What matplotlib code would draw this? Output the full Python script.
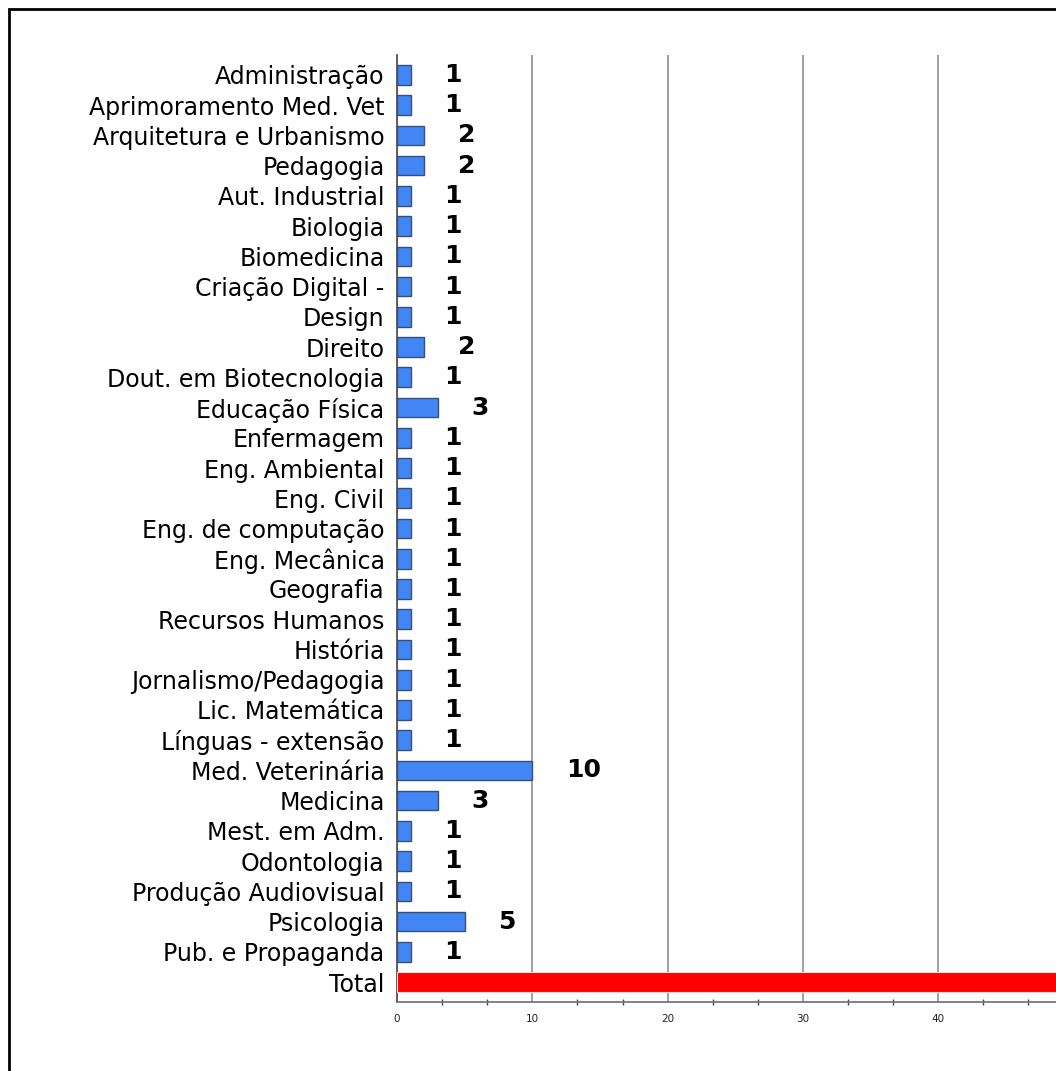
import matplotlib
matplotlib.use('Agg')
import matplotlib.pyplot as plt
from matplotlib.patches import Rectangle
from matplotlib.ticker import MultipleLocator

# Data
cursos = ['Administração', 'Aprimoramento Med. Vet', 'Arquitetura e Urbanismo',
          'Pedagogia', 'Aut. Industrial', 'Biologia', 'Biomedicina',
          'Criação Digital -', 'Design', 'Direito', 'Dout. em Biotecnologia',
          'Educação Física', 'Enfermagem', 'Eng. Ambiental', 'Eng. Civil',
          'Eng. de computação', 'Eng. Mecânica', 'Geografia', 'Recursos Humanos',
          'História', 'Jornalismo/Pedagogia', 'Lic. Matemática',
          'Línguas - extensão', 'Med. Veterinária', 'Medicina', 'Mest. em Adm.',
          'Odontologia', 'Produção Audiovisual', 'Psicologia', 'Pub. e Propaganda']
valores = [1, 1, 2, 2, 1, 1, 1, 1, 1, 2, 1, 3, 1, 1, 1, 1, 1, 1, 1, 1, 1, 1, 1,
           10, 3, 1, 1, 1, 5, 1]
total_label = 'Total'
total_valor = 50
x_ticks = [0, 10, 20, 30, 40]

W, H = 1056, 1071
fig = plt.figure(figsize=(W / 100, H / 100), dpi=100)

# axes placed in pixel terms of the reference
x0_px, x_unit = 397, 13.53
top_px, bot_px = 55, 1002
ax = fig.add_axes([x0_px / W, (H - bot_px) / H, 1 - x0_px / W, (bot_px - top_px) / H])
ax.set_xlim(0, (W - x0_px) / x_unit)

n = len(cursos)
ypos = list(range(n))
ax.barh(ypos, valores, height=0.65, color='#4285f4', edgecolor='#34507c',
        linewidth=1, zorder=3)
ax.barh([n], [total_valor], height=0.65, color='#ff0000', edgecolor='#ffd0d0',
        linewidth=0.8, zorder=3)

for y, v in zip(ypos, valores):
    ax.text(v + 2.5, y, str(v), ha='left', va='center', fontsize=18,
            fontweight='bold', family='DejaVu Sans', color='black', zorder=4)

ax.set_yticks(ypos + [n])
ax.set_yticklabels(cursos + [total_label], fontsize=17, family='DejaVu Sans')
ax.set_ylim(n + 0.66, -0.66)

ax.set_xticks(x_ticks)
ax.set_xticklabels([str(t) for t in x_ticks], fontsize=7.5, color='#222222')
ax.xaxis.set_minor_locator(MultipleLocator(10 / 3))
ax.tick_params(axis='y', length=0, pad=9)
ax.tick_params(axis='x', which='major', length=0, pad=9)
ax.tick_params(axis='x', which='minor', length=5, direction='inout',
               color='#444444', width=1)

ax.grid(axis='x', which='major', color='#999999', linewidth=1.3, zorder=0)
for s in ['top', 'right']:
    ax.spines[s].set_visible(False)
ax.spines['left'].set_color('#555555')
ax.spines['left'].set_linewidth(1.3)
ax.spines['bottom'].set_color('#777777')
ax.spines['bottom'].set_linewidth(1.3)

# frame around the picture (cut at right and bottom)
fig.patches.append(Rectangle((8.5 / W, -0.1), 1.2, 0.1 + (H - 9.5) / H,
                             transform=fig.transFigure, fill=False,
                             edgecolor='black', linewidth=2))

fig.savefig('out.png', dpi=100)
